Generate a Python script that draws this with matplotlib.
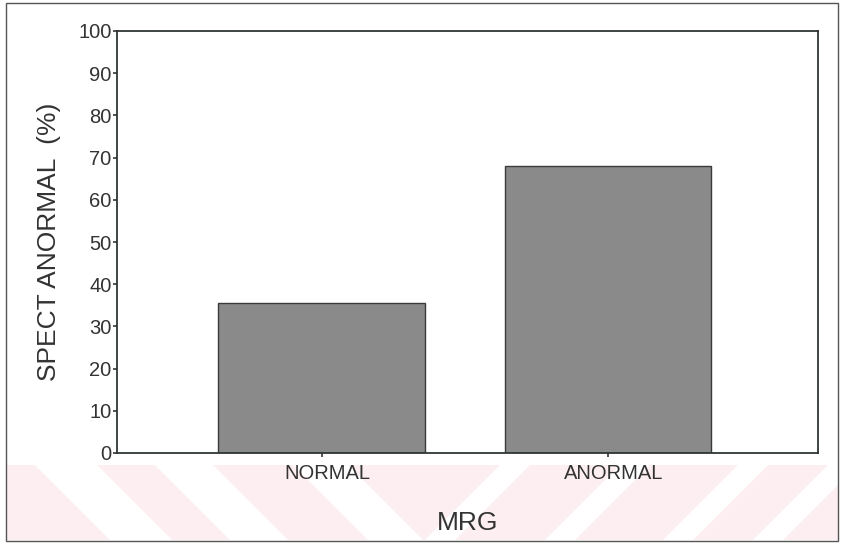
import matplotlib
matplotlib.use("Agg")
import matplotlib.pyplot as plt
import matplotlib.transforms as mtransforms
from matplotlib.patches import Rectangle, Polygon

categories = ["NORMAL", "ANORMAL"]
values = [35.5, 68.0]
yticks = [0, 10, 20, 30, 40, 50, 60, 70, 80, 90, 100]
ylabel = "SPECT ANORMAL  (%)"
xlabel = "MRG"

plt.rcParams['font.family'] = ['Liberation Sans', 'DejaVu Sans']

W, H = 844, 546
fig = plt.figure(figsize=(W / 100, H / 100), dpi=100)

# background watermark band (figure pixel coordinates via a full-figure axes)
bg = fig.add_axes([0, 0, 1, 1], zorder=0)
bg.set_xlim(0, W)
bg.set_ylim(H, 0)
bg.axis("off")
band_top, band_bot = 465, 540
bg.add_patch(Rectangle((6, band_top), 832, band_bot - band_top,
                       facecolor="#fdeff1", edgecolor="none"))
sh = 75
for x0, sw in [(35, 62), (155, 58), (293, 55)]:
    bg.add_patch(Polygon([(x0, band_top), (x0 + sw, band_top),
                          (x0 + sw + sh, band_bot), (x0 + sh, band_bot)],
                         closed=True, facecolor="white", edgecolor="none"))
for x0, sw in [(500, 30), (620, 30), (738, 30), (828, 30)]:
    bg.add_patch(Polygon([(x0, band_top), (x0 + sw, band_top),
                          (x0 + sw - sh, band_bot), (x0 - sh, band_bot)],
                         closed=True, facecolor="white", edgecolor="none"))
# figure border
bg.add_patch(Rectangle((6, 3), 832, 538, facecolor="none",
                       edgecolor="#555555", linewidth=1.0))

ax = fig.add_axes([117 / W, (H - 453) / H, (818 - 117) / W, (453 - 31) / H], zorder=1)
ax.patch.set_alpha(0)
x = list(range(len(categories)))
ax.bar(x, values, width=0.72, color="#8a8a8a", edgecolor="#3a3a3a", linewidth=1.0)
ax.set_xlim(-0.714, 1.733)
ax.set_ylim(0, 100)
ax.set_yticks(yticks)
ax.set_yticklabels([str(v) for v in yticks], fontsize=14.5, color="#333333")
ax.set_xticks(x)
ax.set_xticklabels(categories, fontsize=14.5, color="#333333")
ax.tick_params(axis="both", direction="out", length=3, width=1.2, color="#333333", pad=1)
ax.tick_params(axis="x", pad=5)
offset = mtransforms.ScaledTranslation(6 / 100, 0, fig.dpi_scale_trans)
for lbl in ax.get_xticklabels():
    lbl.set_transform(lbl.get_transform() + offset)
for s in ax.spines.values():
    s.set_color("#2f3535")
    s.set_linewidth(1.3)
ax.set_ylabel(ylabel, fontsize=19, color="#333333", labelpad=12)
ax.set_xlabel(xlabel, fontsize=19, color="#333333", labelpad=20)

fig.savefig("out.png", dpi=100)
